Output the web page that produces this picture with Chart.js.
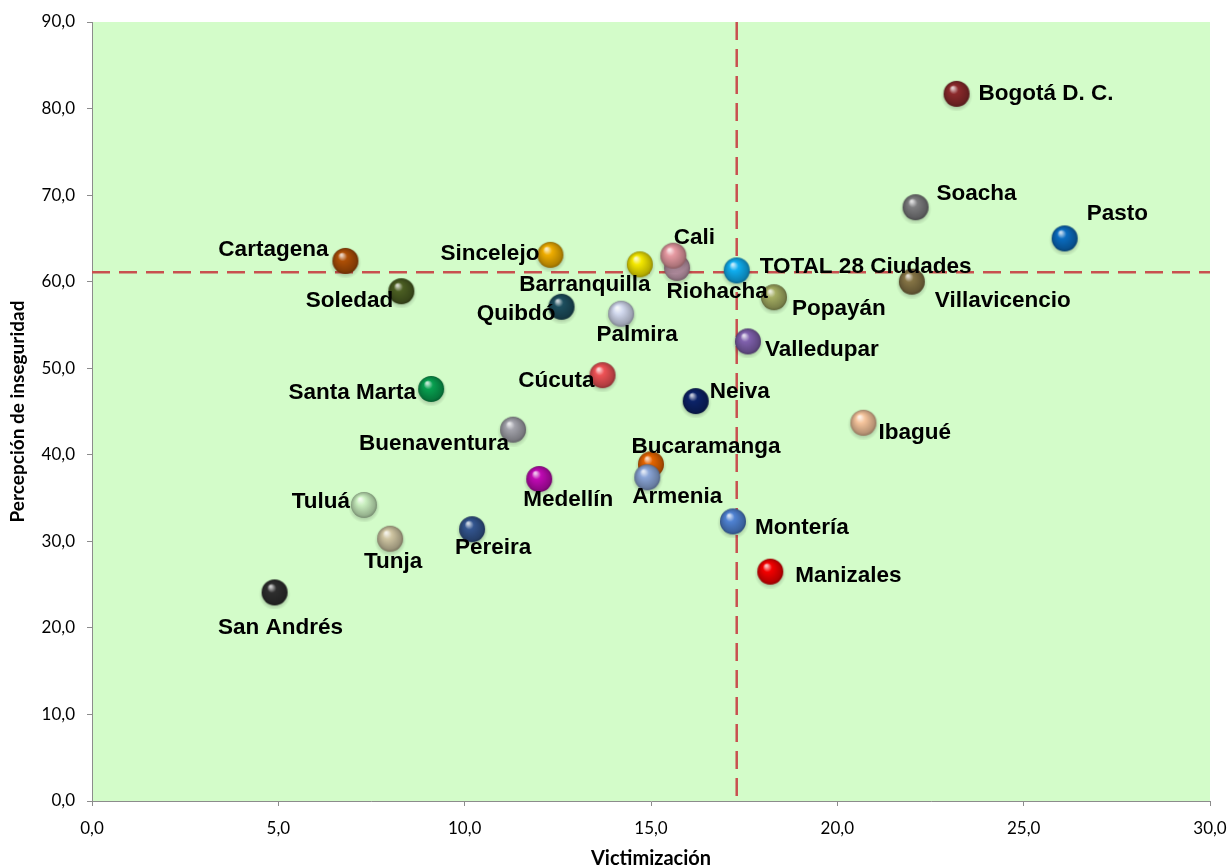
<!DOCTYPE html>
<html>
<head>
<meta charset="utf-8">
<script src="https://cdn.jsdelivr.net/npm/chart.js@4"></script>
<style>
  html, body { margin: 0; padding: 0; background: #fff; }
  #wrap { width: 1229px; height: 868px; }
</style>
</head>
<body>
<div id="wrap"><canvas id="chart" width="1229" height="868"></canvas></div>
<script>
// data
const cities = ["Bogotá D. C.", "Soacha", "Pasto", "Villavicencio", "Popayán", "Riohacha", "Cali",
  "Barranquilla", "Sincelejo", "Cartagena", "Soledad", "Quibdó", "Palmira", "Valledupar", "Cúcuta",
  "Santa Marta", "Neiva", "Ibagué", "Buenaventura", "Bucaramanga", "Armenia", "Medellín", "Tuluá",
  "Pereira", "Montería", "Tunja", "Manizales", "San Andrés", "TOTAL 28 Ciudades"];
const victimizacion = [23.2, 22.1, 26.1, 22.0, 18.3, 15.7, 15.6, 14.7, 12.3, 6.8, 8.3, 12.6, 14.2, 17.6, 13.7,
  9.1, 16.2, 20.7, 11.3, 15.0, 14.9, 12.0, 7.3, 10.2, 17.2, 8.0, 18.2, 4.9, 17.3];
const percepcion = [81.7, 68.6, 65.0, 60.0, 58.2, 61.6, 63.0, 62.0, 63.1, 62.4, 58.9, 57.1, 56.3, 53.1, 49.2,
  47.6, 46.2, 43.7, 42.9, 38.9, 37.4, 37.2, 34.2, 31.4, 32.3, 30.3, 26.5, 24.1, 61.3];
const refVictimizacion = 17.3;
const refPercepcion = 61.1;
const xTicks = [0, 5, 10, 15, 20, 25, 30];
const yTicks = [0, 10, 20, 30, 40, 50, 60, 70, 80, 90];

// look
const colors = ["#8c2a2c", "#7c7c7e", "#0a6cc0", "#857445", "#a4ad62", "#c59db0", "#e69aa2",
  "#f4e800", "#efad00", "#ad4f06", "#4b5e22", "#1d4e5e", "#d2d9ee", "#8061ad", "#ee5256",
  "#08a050", "#0c2368", "#f5c49c", "#a2a2aa", "#e46400", "#8ba6d8", "#c00ab4", "#c9eebf",
  "#33558f", "#4f82d2", "#cfc5a2", "#f40000", "#2e2e2e", "#10aef0"];
// label offsets from the point centre: [dx, dy, align]
const labelPos = [[22, 0, "left"], [21, -13, "left"], [22, -25, "left"], [23, 19, "left"], [18, 12, "left"],
  [40, 24, "center"], [21, -18, "center"], [-55, 20, "center"], [-11, -1, "right"], [-17, -11, "right"],
  [-8, 10, "right"], [-6, 7, "right"], [16, 21, "center"], [17, 8, "left"], [-8, 6, "right"],
  [-15, 4, "right"], [14, -9, "left"], [15, 10, "left"], [-79, 14, "center"], [55, -18, "center"],
  [30, 20, "center"], [29, 21, "center"], [-14, -3, "right"], [21, 19, "center"], [22, 6, "left"],
  [3, 23, "center"], [25, 4, "left"], [6, 35, "center"], [23, -4, "left"]];

function mix(hex, target, t) {
  const n = parseInt(hex.slice(1), 16);
  const r = (n >> 16) & 255, g = (n >> 8) & 255, b = n & 255;
  const m = c => Math.round(c + (target - c) * t);
  return `rgb(${m(r)},${m(g)},${m(b)})`;
}

function sphere(color) {
  const s = 34, c = document.createElement("canvas");
  c.width = c.height = s;
  const g = c.getContext("2d");
  // soft shadow
  const sh = g.createRadialGradient(17, 19, 9, 17, 19, 16);
  sh.addColorStop(0, "rgba(0,0,0,0.25)");
  sh.addColorStop(1, "rgba(0,0,0,0)");
  g.fillStyle = sh;
  g.beginPath(); g.arc(17, 19, 16, 0, Math.PI * 2); g.fill();
  const grad = g.createRadialGradient(13, 11, 1, 17, 17, 13);
  grad.addColorStop(0, mix(color, 255, 0.75));
  grad.addColorStop(0.3, color);
  grad.addColorStop(0.85, mix(color, 0, 0.25));
  grad.addColorStop(1, mix(color, 0, 0.4));
  g.fillStyle = grad;
  g.beginPath(); g.arc(17, 17, 13, 0, Math.PI * 2); g.fill();
  return c;
}

const points = cities.map((c, i) => ({ x: victimizacion[i], y: percepcion[i] }));
const sprites = colors.map(sphere);

const plotBg = {
  id: "plotBg",
  beforeDraw(chart) {
    const a = chart.chartArea, ctx = chart.ctx;
    ctx.save();
    ctx.fillStyle = "#d3fcc9";
    ctx.fillRect(a.left, a.top, a.right - a.left, a.bottom - a.top);
    ctx.restore();
  }
};

const refLines = {
  id: "refLines",
  beforeDatasetsDraw(chart) {
    const a = chart.chartArea, ctx = chart.ctx;
    const x = chart.scales.x.getPixelForValue(refVictimizacion);
    const y = chart.scales.y.getPixelForValue(refPercepcion);
    ctx.save();
    ctx.strokeStyle = "#c8504f";
    ctx.lineWidth = 2.5;
    ctx.setLineDash([18, 9]);
    ctx.beginPath();
    ctx.moveTo(x, a.top); ctx.lineTo(x, a.bottom);
    ctx.moveTo(a.left, y); ctx.lineTo(a.right, y);
    ctx.stroke();
    ctx.restore();
  }
};

const cityLabels = {
  id: "cityLabels",
  afterDatasetsDraw(chart) {
    const ctx = chart.ctx, meta = chart.getDatasetMeta(0);
    ctx.save();
    ctx.font = "bold 22.5px 'Liberation Sans', Arial, sans-serif";
    ctx.fillStyle = "#000";
    ctx.textBaseline = "middle";
    meta.data.forEach((pt, i) => {
      const [dx, dy, al] = labelPos[i];
      ctx.textAlign = al;
      ctx.fillText(cities[i], pt.x + dx, pt.y + dy);
    });
    ctx.restore();
  }
};

const fmt = v => Number(v).toFixed(1).replace(".", ",");

new Chart(document.getElementById("chart"), {
  type: "scatter",
  data: {
    datasets: [{
      data: points,
      pointStyle: sprites,
      pointRadius: 13,
      pointHoverRadius: 13
    }]
  },
  options: {
    responsive: false,
    animation: false,
    events: [],
    layout: { padding: { top: 22, right: 19, left: 0, bottom: 0 } },
    plugins: { legend: { display: false }, tooltip: { enabled: false } },
    scales: {
      x: {
        type: "linear", min: 0, max: 30,
        afterBuildTicks: s => { s.ticks = xTicks.map(v => ({ value: v })); },
        afterFit: s => { s.height = 67; s.paddingLeft = 0; s.paddingRight = 0; },
        grid: { drawOnChartArea: false, drawTicks: true, tickLength: 5, color: "#8c8c8c" },
        border: { color: "#8c8c8c", width: 1 },
        ticks: { callback: fmt, color: "#000", font: { family: "Lato", size: 17 }, padding: 12, maxRotation: 0 },
        title: { display: true, text: "Victimización", color: "#000",
          font: { family: "Lato", size: 20, weight: "bold", lineHeight: 0.95 }, padding: { top: 0, bottom: 0 } }
      },
      y: {
        type: "linear", min: 0, max: 90,
        afterBuildTicks: s => { s.ticks = yTicks.map(v => ({ value: v })); },
        afterFit: s => { s.width = 92; s.paddingTop = 0; s.paddingBottom = 0; },
        grid: { drawOnChartArea: false, drawTicks: true, tickLength: 5, color: "#8c8c8c" },
        border: { color: "#8c8c8c", width: 1 },
        ticks: { callback: fmt, color: "#000", font: { family: "Lato", size: 17 }, padding: 12 },
        title: { display: true, text: "Percepción de inseguridad", color: "#000",
          font: { family: "Lato", size: 19, weight: "bold" }, padding: { top: 6, bottom: 0 } }
      }
    }
  },
  plugins: [plotBg, refLines, cityLabels]
});
</script>
</body>
</html>
